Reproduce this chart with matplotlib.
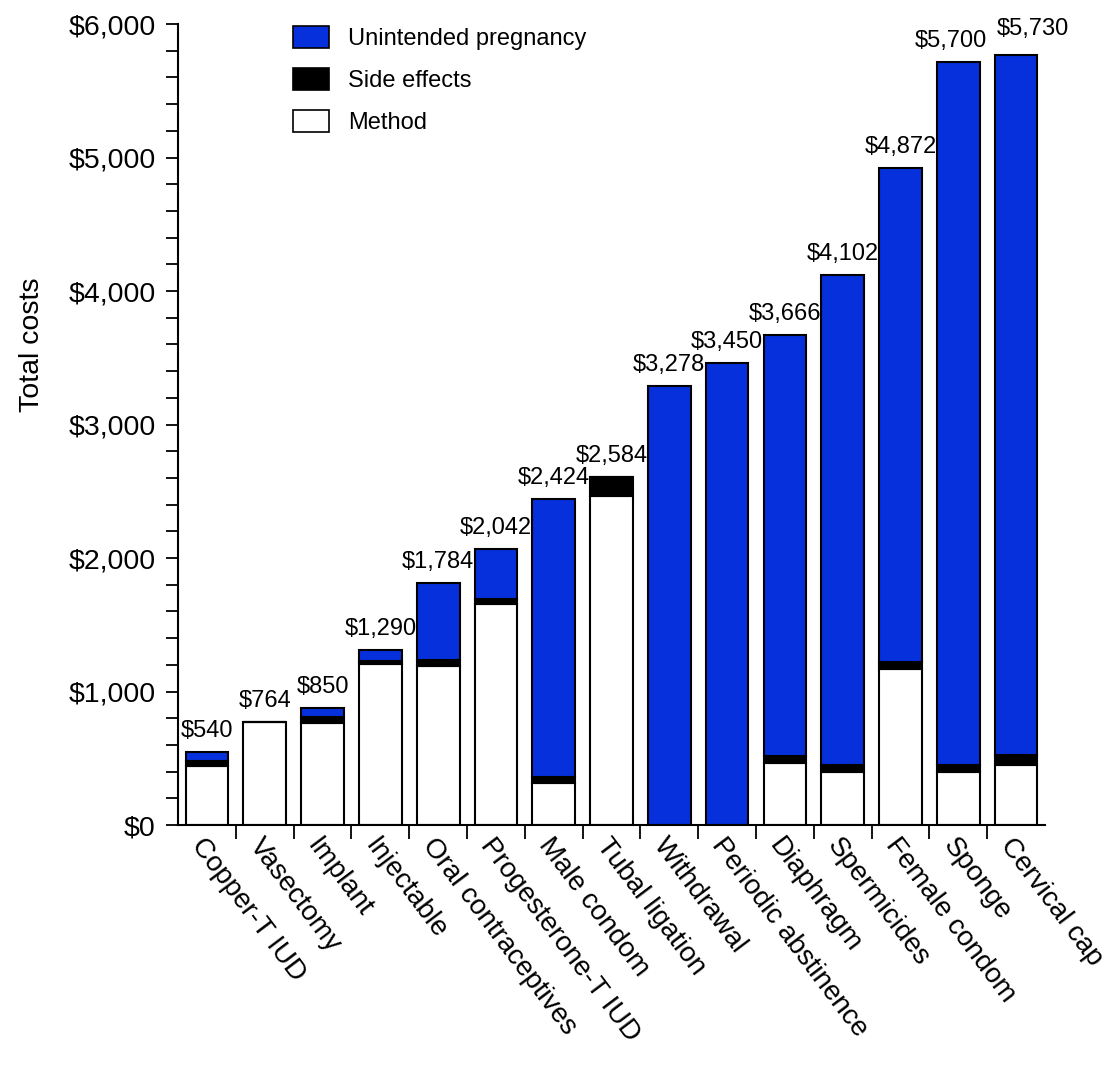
import numpy as np
import matplotlib.pyplot as plt
from matplotlib.patches import Patch
from matplotlib.ticker import MultipleLocator, FuncFormatter

plt.rcParams['font.family'] = ['Liberation Sans', 'DejaVu Sans']

methods = ["Copper-T IUD", "Vasectomy", "Implant", "Injectable", "Oral contraceptives",
           "Progesterone-T IUD", "Male condom", "Tubal ligation", "Withdrawal",
           "Periodic abstinence", "Diaphragm", "Spermicides", "Female condom",
           "Sponge", "Cervical cap"]
method_cost = [440, 772, 764, 1206, 1191, 1655, 315, 2464, 0, 0, 464, 397, 1169, 397, 449]
side_effects = [40, 0, 45, 25, 45, 37, 45, 142, 0, 0, 52, 52, 52, 52, 75]
pregnancy = [70, 0, 67, 80, 577, 375, 2082, 0, 3288, 3461, 3154, 3670, 3700, 5266, 5243]
total_labels = ["$540", "$764", "$850", "$1,290", "$1,784", "$2,042", "$2,424", "$2,584",
                "$3,278", "$3,450", "$3,666", "$4,102", "$4,872", "$5,700", "$5,730"]

blue = '#0530DC'
x = np.arange(len(methods))
m = np.array(method_cost)
s = np.array(side_effects)
p = np.array(pregnancy)

fig = plt.figure(figsize=(11.2, 10.68), dpi=100)
ax = fig.add_axes([0.159, 0.2275, 0.774, 0.75])

w = 0.74
ax.bar(x, m, w, color='white', edgecolor='black', linewidth=1.5)
ax.bar(x, s, w, bottom=m, color='black', edgecolor='black', linewidth=1.5)
ax.bar(x, p, w, bottom=m + s, color=blue, edgecolor='black', linewidth=1.5)

# total labels above each bar; last two nudged apart so they don't collide
nudge = {13: (-5, 7), 14: (12, 11)}
for i, (xi, top, lab) in enumerate(zip(x, m + s + p, total_labels)):
    ax.annotate(lab, (xi, top), xytext=nudge.get(i, (0, 7)), textcoords='offset points',
                ha='center', va='bottom', fontsize=17)

ax.set_xlim(-0.5, len(methods) - 0.5)
ax.set_ylim(0, 6000)

ax.spines['top'].set_visible(False)
ax.spines['right'].set_visible(False)
ax.spines['left'].set_linewidth(1.5)
ax.spines['bottom'].set_linewidth(1.5)

ax.yaxis.set_major_locator(MultipleLocator(1000))
ax.yaxis.set_minor_locator(MultipleLocator(200))
ax.yaxis.set_major_formatter(FuncFormatter(lambda v, pos: "${:,.0f}".format(v)))
ax.tick_params(axis='y', which='both', direction='out', length=9, width=1.3, labelsize=20.5, pad=7)

ax.set_xticks(x)
ax.set_xticklabels(methods, rotation=-53, ha='left', va='top', rotation_mode='anchor', fontsize=20)
ax.set_xticks(x[:-1] + 0.5, minor=True)
ax.tick_params(axis='x', which='major', length=0, pad=6)
ax.tick_params(axis='x', which='minor', direction='out', length=10, width=1.3)

ax.set_ylabel("Total costs", fontsize=20.5)
ax.yaxis.set_label_coords(-0.153, 0.6)

handles = [Patch(facecolor=blue, edgecolor='black', linewidth=1.2),
           Patch(facecolor='black', edgecolor='black', linewidth=1.2),
           Patch(facecolor='white', edgecolor='black', linewidth=1.2)]
ax.legend(handles, ["Unintended pregnancy", "Side effects", "Method"],
          loc='upper left', bbox_to_anchor=(0.133, 0.997), frameon=False, fontsize=17,
          handlelength=1.5, handleheight=1.05, labelspacing=0.75, handletextpad=0.8,
          borderpad=0, borderaxespad=0)

fig.savefig("out.png", dpi=100)
